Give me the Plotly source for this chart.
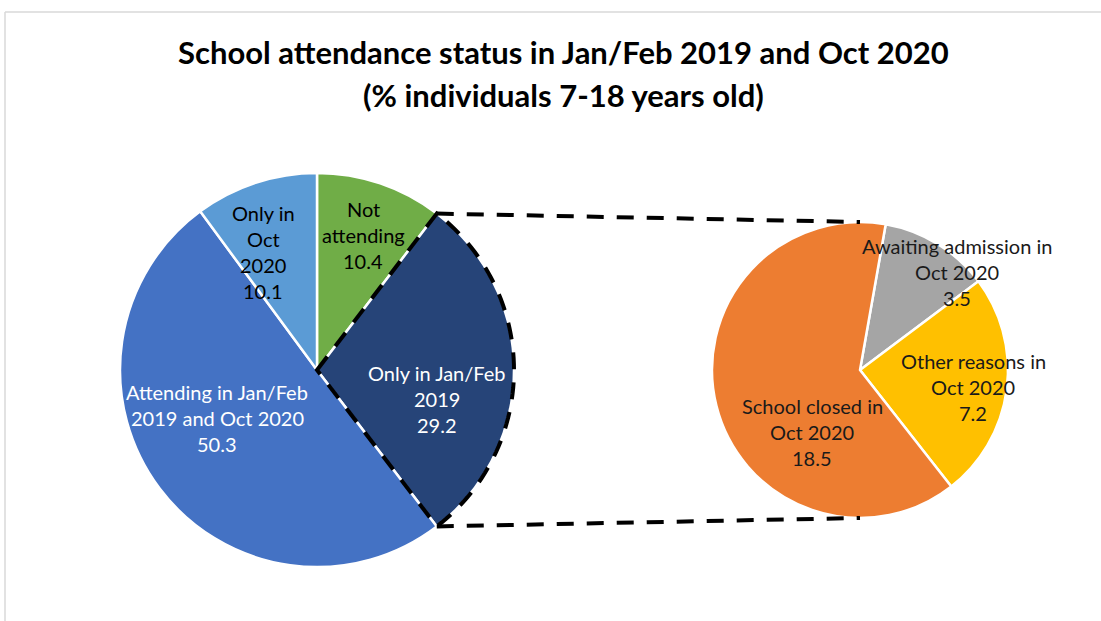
import math
import plotly.graph_objects as go

W, H = 1101, 621

# main pie (clockwise from 12 o'clock)
main_labels = ["Not<br>attending", "Only in Jan/Feb<br>2019",
               "Attending in Jan/Feb<br>2019 and Oct 2020", "Only in<br>Oct<br>2020"]
main_values = [10.4, 29.2, 50.3, 10.1]
main_colors = ["#70AD47", "#264478", "#4472C4", "#5B9BD5"]
main_font_colors = ["#000000", "#FFFFFF", "#FFFFFF", "#000000"]

# breakdown of "Only in Jan/Feb 2019"
sub_labels = ["Awaiting admission in<br>Oct 2020", "Other reasons in<br>Oct 2020",
              "School closed in<br>Oct 2020"]
sub_values = [3.5, 7.2, 18.5]
sub_colors = ["#A5A5A5", "#FFC000", "#ED7D31"]
split_index = 1

title_lines = ["School attendance status in Jan/Feb 2019 and Oct 2020",
               "(% individuals 7-18 years old)"]

# geometry in pixels
main_c, main_r = (317, 370), 197
sub_c, sub_r = (860, 370), 148
sub_rotation = 10
main_label_pos = [(363, 235), (437, 399), (217, 418), (263, 252)]
sub_label_pos = [(957, 272), (973, 387), (812, 432)]
FONT = "Lato"
DASH = "17px,13px"


def px(x, y):
    return x / W, 1 - y / H


def on_circle(c, r, deg):
    a = math.radians(deg)
    return c[0] + r * math.sin(a), c[1] - r * math.cos(a)


def domain(c, r):
    return dict(x=[(c[0] - r) / W, (c[0] + r) / W], y=[1 - (c[1] + r) / H, 1 - (c[1] - r) / H])


fig = go.Figure()
fig.add_trace(go.Pie(values=main_values, labels=main_labels, marker=dict(colors=main_colors, line=dict(color="white", width=2.5)),
                     sort=False, direction="clockwise", rotation=0, textinfo="none", hoverinfo="label+value",
                     domain=domain(main_c, main_r), showlegend=False))
fig.add_trace(go.Pie(values=sub_values, labels=sub_labels, marker=dict(colors=sub_colors, line=dict(color="white", width=2.5)),
                     sort=False, direction="clockwise", rotation=sub_rotation, textinfo="none", hoverinfo="label+value",
                     domain=domain(sub_c, sub_r), showlegend=False))

annotations = []


def add_text(lines, cx, cy, size, color, bold=False, spacing=26):
    n = len(lines)
    for i, ln in enumerate(lines):
        y = cy + (i - (n - 1) / 2) * spacing
        x0, y0 = px(cx, y)
        annotations.append(dict(x=x0, y=y0, xref="paper", yref="paper", text="<b>%s</b>" % ln if bold else ln,
                                showarrow=False, xanchor="center", yanchor="middle",
                                font=dict(family=FONT, size=size, color=color)))


for lab, v, pos, col in zip(main_labels, main_values, main_label_pos, main_font_colors):
    add_text(lab.split("<br>") + ["%.1f" % v], pos[0], pos[1], 20, col)
for lab, v, pos in zip(sub_labels, sub_values, sub_label_pos):
    add_text(lab.split("<br>") + ["%.1f" % v], pos[0], pos[1], 20, "#1a1a1a")
add_text(title_lines, 563, 73, 31, "#000000", bold=True, spacing=43)

# dashed outline of the split slice and connector lines
total = sum(main_values)
a0 = 360 * sum(main_values[:split_index]) / total
a1 = a0 + 360 * main_values[split_index] / total
pts = [main_c] + [on_circle(main_c, main_r, a0 + (a1 - a0) * k / 60) for k in range(61)]
path = "M " + " L ".join("%.5f,%.5f" % px(*p) for p in pts) + " Z"
shapes = [dict(type="path", path=path, xref="paper", yref="paper",
               line=dict(color="black", width=4, dash=DASH))]
top_l, bot_l = on_circle(main_c, main_r, a0), on_circle(main_c, main_r, a1)
top_r, bot_r = (sub_c[0], sub_c[1] - sub_r), (sub_c[0], sub_c[1] + sub_r)
for p, q in [(top_l, top_r), (bot_l, bot_r)]:
    x0, y0 = px(*p)
    x1, y1 = px(*q)
    shapes.append(dict(type="line", x0=x0, y0=y0, x1=x1, y1=y1, xref="paper", yref="paper",
                       line=dict(color="black", width=4, dash=DASH)))

# chart frame
shapes.append(dict(type="line", x0=5 / W, y0=1 - 12 / H, x1=1, y1=1 - 12 / H, xref="paper", yref="paper",
                   line=dict(color="#D9D9D9", width=1.5)))
shapes.append(dict(type="line", x0=5 / W, y0=1 - 12 / H, x1=5 / W, y1=0, xref="paper", yref="paper",
                   line=dict(color="#D9D9D9", width=1.5)))

fig.update_layout(width=W, height=H, margin=dict(l=0, r=0, t=0, b=0), paper_bgcolor="white",
                  plot_bgcolor="white", annotations=annotations, shapes=shapes, showlegend=False)
fig.write_html("out.html", config={"displayModeBar": False},
               post_script="document.body.style.margin='0';")
